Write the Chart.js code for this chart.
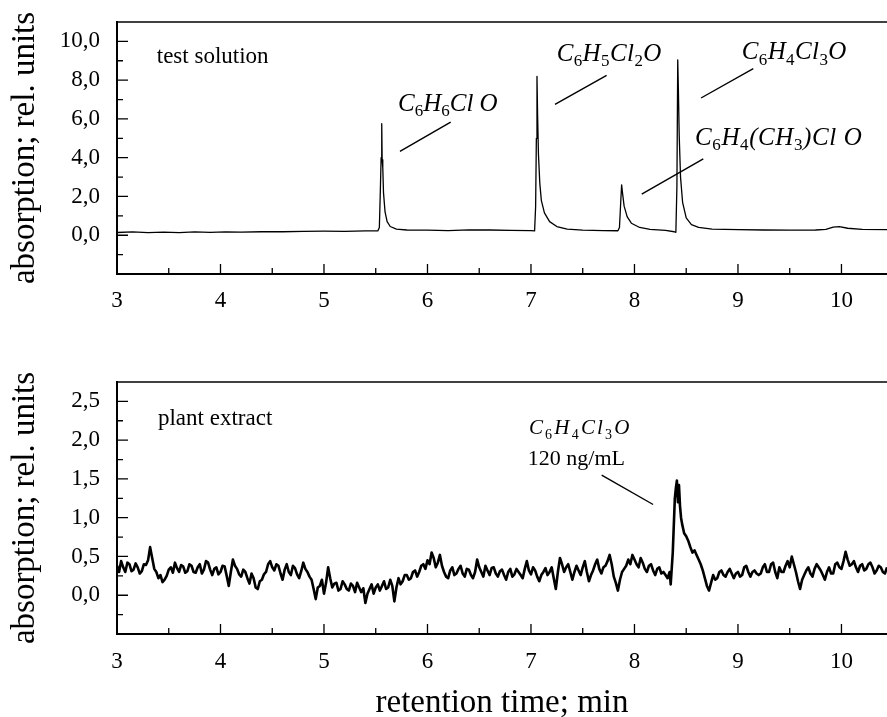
<!DOCTYPE html>
<html>
<head>
<meta charset="utf-8">
<title>Chromatograms</title>
<script src="https://cdn.jsdelivr.net/npm/chart.js@4.4.1/dist/chart.umd.min.js"></script>
<style>
  body { margin: 0; background: #fff; }
  #wrap { position: relative; width: 887px; height: 717px; overflow: hidden; background: #fff; }
  canvas { position: absolute; left: 0; }
  #testChart { top: 0; }
  #plantChart { top: 340px; }
</style>
</head>
<body>
<div id="wrap">
  <canvas id="testChart" width="887" height="340"></canvas>
  <canvas id="plantChart" width="887" height="377"></canvas>
</div>
<script>
// x axis (retention time, min) shared by both panels
const xTicks = [3, 4, 5, 6, 7, 8, 9, 10];
const xMinorTicks = [3.5, 4.5, 5.5, 6.5, 7.5, 8.5, 9.5];
const xMin = 3;
const xMax = 10.44;

// upper panel: test solution
const testYTicks = [0, 2, 4, 6, 8, 10];
const testYMinor = [-1, 1, 3, 5, 7, 9];
const testTime = [
  3.00, 3.15, 3.30, 3.45, 3.60, 3.75, 3.90, 4.05, 4.20, 4.40, 4.60, 4.80, 5.00, 5.20, 5.40,
  5.52, 5.535, 5.545, 5.552, 5.558, 5.562, 5.568, 5.575, 5.59, 5.61, 5.64, 5.70, 5.80,
  6.00, 6.20, 6.40, 6.60, 6.80, 7.00, 7.035, 7.045, 7.052, 7.058, 7.064, 7.072, 7.085,
  7.10, 7.13, 7.18, 7.25, 7.35, 7.50, 7.70, 7.84, 7.855, 7.868, 7.876, 7.884, 7.90,
  7.93, 7.97, 8.05, 8.15, 8.30, 8.385, 8.40, 8.41, 8.418, 8.424, 8.432, 8.445, 8.465,
  8.50, 8.55, 8.62, 8.75, 9.00, 9.25, 9.50, 9.75, 9.85, 9.92, 9.98, 10.06, 10.20, 10.44
];
const testAbs = [
  0.14, 0.17, 0.13, 0.16, 0.13, 0.17, 0.15, 0.17, 0.16, 0.18, 0.18, 0.20, 0.21, 0.20, 0.22,
  0.22, 0.40, 2.4, 4.0, 5.75, 3.9, 3.5, 2.2, 1.2, 0.70, 0.45, 0.32, 0.27,
  0.26, 0.24, 0.28, 0.27, 0.25, 0.24, 0.22, 1.5, 5.0, 8.2, 6.2, 4.2, 2.7,
  1.8, 1.15, 0.70, 0.45, 0.32, 0.26, 0.24, 0.23, 0.40, 1.8, 2.6, 2.2, 1.5,
  0.95, 0.62, 0.40, 0.30, 0.25, 0.18, 0.15, 2.5, 9.05, 7.6, 5.2, 3.0, 1.7,
  0.9, 0.55, 0.40, 0.32, 0.29, 0.27, 0.26, 0.27, 0.30, 0.42, 0.44, 0.36, 0.30, 0.29
];

// lower panel: plant extract
const plantYTicks = [0, 0.5, 1, 1.5, 2, 2.5];
const plantYMinor = [-0.25, 0.25, 0.75, 1.25, 1.75, 2.25];
const plantTime = [
  3.00, 3.02, 3.04, 3.06, 3.08, 3.10, 3.12, 3.14, 3.16, 3.18, 3.20, 3.22, 3.24, 3.26, 3.28,
  3.30, 3.32, 3.34, 3.36, 3.38, 3.40, 3.42, 3.44, 3.46, 3.48, 3.50, 3.52, 3.54, 3.56, 3.58,
  3.60, 3.62, 3.64, 3.66, 3.68, 3.70, 3.72, 3.74, 3.76, 3.78, 3.80, 3.82, 3.84, 3.86, 3.88,
  3.90, 3.92, 3.94, 3.96, 3.98, 4.00, 4.02, 4.04, 4.06, 4.08, 4.10, 4.12, 4.14, 4.16, 4.18,
  4.20, 4.22, 4.24, 4.26, 4.28, 4.30, 4.32, 4.34, 4.36, 4.38, 4.40, 4.42, 4.44, 4.46, 4.48,
  4.50, 4.52, 4.54, 4.56, 4.58, 4.60, 4.62, 4.64, 4.66, 4.68, 4.70, 4.72, 4.74, 4.76, 4.78,
  4.80, 4.82, 4.84, 4.86, 4.88, 4.90, 4.92, 4.94, 4.96, 4.98, 5.00, 5.02, 5.04, 5.06, 5.08,
  5.10, 5.12, 5.14, 5.16, 5.18, 5.20, 5.22, 5.24, 5.26, 5.28, 5.30, 5.32, 5.34, 5.36, 5.38,
  5.40, 5.42, 5.44, 5.46, 5.48, 5.50, 5.52, 5.54, 5.56, 5.58, 5.60, 5.62, 5.64, 5.66, 5.68,
  5.70, 5.72, 5.74, 5.76, 5.78, 5.80, 5.82, 5.84, 5.86, 5.88, 5.90, 5.92, 5.94, 5.96, 5.98,
  6.00, 6.02, 6.04, 6.06, 6.08, 6.10, 6.12, 6.14, 6.16, 6.18, 6.20, 6.22, 6.24, 6.26, 6.28,
  6.30, 6.32, 6.34, 6.36, 6.38, 6.40, 6.42, 6.44, 6.46, 6.48, 6.50, 6.52, 6.54, 6.56, 6.58,
  6.60, 6.62, 6.64, 6.66, 6.68, 6.70, 6.72, 6.74, 6.76, 6.78, 6.80, 6.82, 6.84, 6.86, 6.88,
  6.90, 6.92, 6.94, 6.96, 6.98, 7.00, 7.02, 7.04, 7.06, 7.08, 7.10, 7.12, 7.14, 7.16, 7.18,
  7.20, 7.22, 7.24, 7.26, 7.28, 7.30, 7.32, 7.34, 7.36, 7.38, 7.40, 7.42, 7.44, 7.46, 7.48,
  7.50, 7.52, 7.54, 7.56, 7.58, 7.60, 7.62, 7.64, 7.66, 7.68, 7.70, 7.72, 7.74, 7.76, 7.78,
  7.80, 7.82, 7.84, 7.86, 7.88, 7.90, 7.92, 7.94, 7.96, 7.98, 8.00, 8.02, 8.04, 8.06, 8.08,
  8.10, 8.12, 8.14, 8.16, 8.18, 8.20, 8.22, 8.24, 8.26, 8.28, 8.30, 8.32, 8.34,
  8.35, 8.37, 8.39, 8.40, 8.41, 8.42, 8.43, 8.44, 8.45, 8.46, 8.48, 8.50, 8.52, 8.54, 8.56,
  8.58, 8.60, 8.62, 8.64, 8.66, 8.68, 8.70, 8.72, 8.74, 8.76, 8.78,
  8.80, 8.82, 8.84, 8.86, 8.88, 8.90, 8.92, 8.94, 8.96, 8.98, 9.00, 9.02, 9.04, 9.06, 9.08,
  9.10, 9.12, 9.14, 9.16, 9.18, 9.20, 9.22, 9.24, 9.26, 9.28, 9.30, 9.32, 9.34, 9.36, 9.38,
  9.40, 9.42, 9.44, 9.46, 9.48, 9.50, 9.52, 9.54, 9.56, 9.58, 9.60, 9.62, 9.64, 9.66, 9.68,
  9.70, 9.72, 9.74, 9.76, 9.78, 9.80, 9.82, 9.84, 9.86, 9.88, 9.90, 9.92, 9.94, 9.96, 9.98,
  10.00, 10.02, 10.04, 10.06, 10.08, 10.10, 10.12, 10.14, 10.16, 10.18, 10.20, 10.22, 10.24, 10.26, 10.28,
  10.30, 10.32, 10.34, 10.36, 10.38, 10.40, 10.42, 10.44
];
const plantAbs = [
  0.38, 0.30, 0.44, 0.36, 0.30, 0.42, 0.40, 0.31, 0.33, 0.41, 0.36, 0.28, 0.31, 0.40, 0.39,
  0.45, 0.62, 0.48, 0.34, 0.30, 0.22, 0.26, 0.17, 0.20, 0.25, 0.33, 0.36, 0.29, 0.42, 0.35,
  0.30, 0.39, 0.37, 0.29, 0.31, 0.40, 0.38, 0.30, 0.29, 0.36, 0.40, 0.28, 0.33, 0.44, 0.42,
  0.33, 0.26, 0.34, 0.36, 0.27, 0.30, 0.38, 0.37, 0.25, 0.12, 0.30, 0.46, 0.38, 0.34, 0.27,
  0.24, 0.33, 0.30, 0.22, 0.15, 0.28, 0.22, 0.10, 0.08, 0.18, 0.20, 0.27, 0.30, 0.40, 0.44,
  0.36, 0.32, 0.40, 0.38, 0.28, 0.20, 0.33, 0.40, 0.30, 0.26, 0.38, 0.35, 0.27, 0.22, 0.31,
  0.42, 0.34, 0.30, 0.24, 0.20, 0.08, -0.05, 0.10, 0.12, 0.20, 0.02, 0.16, 0.36, 0.22, 0.10,
  0.15, 0.16, 0.06, 0.08, 0.18, 0.14, 0.08, 0.06, 0.15, 0.12, 0.04, 0.16, 0.10, 0.04, 0.09,
  -0.10, 0.02, 0.08, 0.14, 0.02, 0.10, 0.14, 0.06, 0.12, 0.18, 0.08, 0.10, 0.20, 0.12, -0.08,
  0.10, 0.22, 0.14, 0.18, 0.26, 0.26, 0.20, 0.22, 0.30, 0.32, 0.24, 0.30, 0.38, 0.40, 0.34,
  0.45, 0.40, 0.55, 0.48, 0.36, 0.42, 0.52, 0.38, 0.30, 0.24, 0.22, 0.32, 0.36, 0.26, 0.28,
  0.34, 0.38, 0.28, 0.24, 0.34, 0.33, 0.26, 0.22, 0.30, 0.46, 0.36, 0.30, 0.24, 0.38, 0.32,
  0.26, 0.35, 0.36, 0.28, 0.24, 0.31, 0.33, 0.26, 0.20, 0.30, 0.34, 0.24, 0.27, 0.34, 0.30,
  0.26, 0.22, 0.34, 0.44, 0.32, 0.27, 0.36, 0.32, 0.24, 0.18, 0.26, 0.30, 0.35, 0.26, 0.30,
  0.36, 0.22, 0.08, 0.30, 0.48, 0.40, 0.30, 0.36, 0.40, 0.30, 0.20, 0.30, 0.38, 0.32, 0.26,
  0.36, 0.44, 0.30, 0.18, 0.26, 0.32, 0.40, 0.46, 0.34, 0.28, 0.36, 0.38, 0.44, 0.52, 0.40,
  0.24, 0.16, 0.06, 0.20, 0.30, 0.34, 0.38, 0.46, 0.40, 0.52, 0.46, 0.40, 0.36, 0.48, 0.42,
  0.34, 0.30, 0.38, 0.40, 0.32, 0.26, 0.34, 0.36, 0.28, 0.30, 0.26, 0.22, 0.30,
  0.14, 0.55, 1.25, 1.38, 1.48, 1.20, 1.42, 1.15, 1.00, 0.92, 0.80, 0.76, 0.70, 0.62, 0.55,
  0.58, 0.52, 0.46, 0.40, 0.32, 0.22, 0.12, 0.06, 0.16, 0.26, 0.20,
  0.22, 0.30, 0.32, 0.26, 0.24, 0.30, 0.34, 0.28, 0.22, 0.28, 0.30, 0.24, 0.26, 0.36, 0.38,
  0.30, 0.24, 0.30, 0.32, 0.28, 0.26, 0.28, 0.36, 0.40, 0.30, 0.30, 0.40, 0.42, 0.30, 0.22,
  0.36, 0.30, 0.30, 0.38, 0.44, 0.36, 0.50, 0.40, 0.30, 0.18, 0.08, 0.20, 0.26, 0.32, 0.36,
  0.28, 0.24, 0.34, 0.40, 0.36, 0.32, 0.26, 0.20, 0.30, 0.36, 0.28, 0.28, 0.40, 0.42, 0.36,
  0.34, 0.44, 0.56, 0.46, 0.38, 0.40, 0.44, 0.36, 0.30, 0.38, 0.40, 0.32, 0.34, 0.40, 0.42,
  0.36, 0.28, 0.32, 0.38, 0.36, 0.30, 0.28, 0.36
];

// text labels, anchored at their left baseline in data units; "_" marks a subscript
const testNotes = [
  { t: 3.384, v: 8.91, text: "test solution", italic: false, size: 23, spacing: 0 },
  { t: 5.715, v: 6.41, text: "C_6H_6Cl O", italic: true, size: 25, spacing: 0 },
  { t: 7.248, v: 8.99, text: "C_6H_5Cl_2O", italic: true, size: 25, spacing: 0.4 },
  { t: 9.036, v: 9.07, text: "C_6H_4Cl_3O", italic: true, size: 25, spacing: 0.4 },
  { t: 8.585, v: 4.68, text: "C_6H_4(CH_3)Cl O", italic: true, size: 25, spacing: 0.6 },
];
const testLeaders = [
  [5.734, 4.33, 6.224, 5.83],
  [7.232, 6.75, 7.731, 8.25],
  [8.643, 7.08, 9.148, 8.6],
  [8.07, 2.12, 8.665, 3.94],
];
const plantNotes = [
  { t: 3.396, v: 2.19, text: "plant extract", italic: false, size: 23, spacing: 0 },
  { t: 6.98, v: 2.08, text: "C_6H_4Cl_3O", italic: true, size: 21, spacing: 2.2 },
  { t: 6.97, v: 1.68, text: "120 ng/mL", italic: false, size: 22, spacing: 0 },
];
const plantLeaders = [[7.683, 1.55, 8.18, 1.17]];

const serif = '"Liberation Serif", "Times New Roman", serif';

function drawNote(ctx, note, x, y) {
  let cx = x;
  ctx.textBaseline = "alphabetic";
  ctx.textAlign = "left";
  for (let i = 0; i < note.text.length; i++) {
    let ch = note.text[i];
    let sub = false;
    if (ch === "_") {
      sub = true;
      ch = note.text[++i];
    }
    if (sub) {
      ctx.font = `${Math.round(note.size * 0.68)}px ${serif}`;
      ctx.fillText(ch, cx, y + note.size * 0.22);
    } else {
      ctx.font = `${note.italic ? "italic " : ""}${note.size}px ${serif}`;
      ctx.fillText(ch, cx, y);
    }
    cx += ctx.measureText(ch).width + note.spacing;
  }
}

// frame top line, inward tick marks and the peak labels
const framePlugin = {
  id: "frame",
  afterDraw(chart, args, opts) {
    const { ctx, chartArea: a } = chart;
    const x = chart.scales.x;
    const y = chart.scales.y;
    ctx.save();
    ctx.strokeStyle = "#000";
    ctx.fillStyle = "#000";
    ctx.lineWidth = 1.6;
    ctx.beginPath();
    ctx.moveTo(a.left, a.top);
    ctx.lineTo(a.right, a.top);
    ctx.stroke();

    ctx.lineWidth = 1.3;
    ctx.beginPath();
    xTicks.forEach((v) => {
      const px = x.getPixelForValue(v);
      ctx.moveTo(px, a.bottom);
      ctx.lineTo(px, a.bottom - 10);
    });
    xMinorTicks.forEach((v) => {
      const px = x.getPixelForValue(v);
      ctx.moveTo(px, a.bottom);
      ctx.lineTo(px, a.bottom - 6);
    });
    opts.yMajor.forEach((v) => {
      const py = y.getPixelForValue(v);
      ctx.moveTo(a.left, py);
      ctx.lineTo(a.left + 11, py);
    });
    opts.yMinor.forEach((v) => {
      const py = y.getPixelForValue(v);
      ctx.moveTo(a.left, py);
      ctx.lineTo(a.left + 6, py);
    });
    ctx.stroke();

    ctx.lineWidth = 1.4;
    ctx.beginPath();
    opts.leaders.forEach((l) => {
      ctx.moveTo(x.getPixelForValue(l[0]), y.getPixelForValue(l[1]));
      ctx.lineTo(x.getPixelForValue(l[2]), y.getPixelForValue(l[3]));
    });
    ctx.stroke();

    opts.notes.forEach((n) => {
      drawNote(ctx, n, x.getPixelForValue(n.t), y.getPixelForValue(n.v));
    });
    ctx.restore();
  },
};

function buildChart(id, cfg) {
  const points = cfg.time.map((t, i) => ({ x: t, y: cfg.abs[i] }));
  return new Chart(document.getElementById(id), {
    type: "line",
    data: {
      datasets: [
        {
          data: points,
          borderColor: "#000",
          borderWidth: cfg.lineWidth,
          borderJoinStyle: "round",
          pointRadius: 0,
          tension: 0,
        },
      ],
    },
    options: {
      responsive: false,
      animation: false,
      devicePixelRatio: 1,
      layout: { padding: { top: cfg.top, left: 0, right: 0, bottom: 0 } },
      plugins: {
        legend: { display: false },
        tooltip: { enabled: false },
        frame: { yMajor: cfg.yTicks, yMinor: cfg.yMinor, leaders: cfg.leaders, notes: cfg.notes },
      },
      scales: {
        x: {
          type: "linear",
          min: xMin,
          max: xMax,
          afterBuildTicks: (s) => {
            s.ticks = xTicks.map((v) => ({ value: v }));
          },
          afterFit: (s) => {
            s.height = cfg.xHeight;
          },
          grid: { display: false, drawTicks: false },
          border: { display: true, color: "#000", width: 2 },
          ticks: {
            padding: cfg.xPad,
            color: "#000",
            font: { family: serif, size: 23 },
            maxRotation: 0,
            autoSkip: false,
            callback: (v) => String(v),
          },
          title: {
            display: cfg.xTitle,
            text: "retention time; min",
            color: "#000",
            font: { family: serif, size: 33, lineHeight: 0.8 },
            padding: { top: 0, bottom: 0 },
          },
        },
        y: {
          min: cfg.yMin,
          max: cfg.yMax,
          afterBuildTicks: (s) => {
            s.ticks = cfg.yTicks.map((v) => ({ value: v }));
          },
          afterFit: (s) => {
            s.width = 117;
            // labels sit well inside the axis, no extra room needed above or below
            s.paddingTop = 0;
            s.paddingBottom = 0;
          },
          grid: { display: false, drawTicks: false },
          border: { display: true, color: "#000", width: 2 },
          ticks: {
            padding: 17,
            color: "#000",
            font: { family: serif, size: 23 },
            callback: (v) => v.toFixed(1).replace(".", ","),
          },
          title: {
            display: true,
            text: "absorption; rel. units",
            color: "#000",
            font: { family: serif, size: 33, lineHeight: 1 },
            padding: { top: 9, bottom: 0 },
          },
        },
      },
    },
    plugins: [framePlugin],
  });
}

buildChart("testChart", {
  time: testTime,
  abs: testAbs,
  lineWidth: 1.3,
  top: 22,
  xHeight: 66,
  xPad: 13,
  xTitle: false,
  yMin: -2,
  yMax: 11,
  yTicks: testYTicks,
  yMinor: testYMinor,
  leaders: testLeaders,
  notes: testNotes,
});

buildChart("plantChart", {
  time: plantTime,
  abs: plantAbs,
  lineWidth: 2.6,
  top: 42,
  xHeight: 83,
  xPad: 14,
  xTitle: true,
  yMin: -0.5,
  yMax: 2.75,
  yTicks: plantYTicks,
  yMinor: plantYMinor,
  leaders: plantLeaders,
  notes: plantNotes,
});
</script>
</body>
</html>
